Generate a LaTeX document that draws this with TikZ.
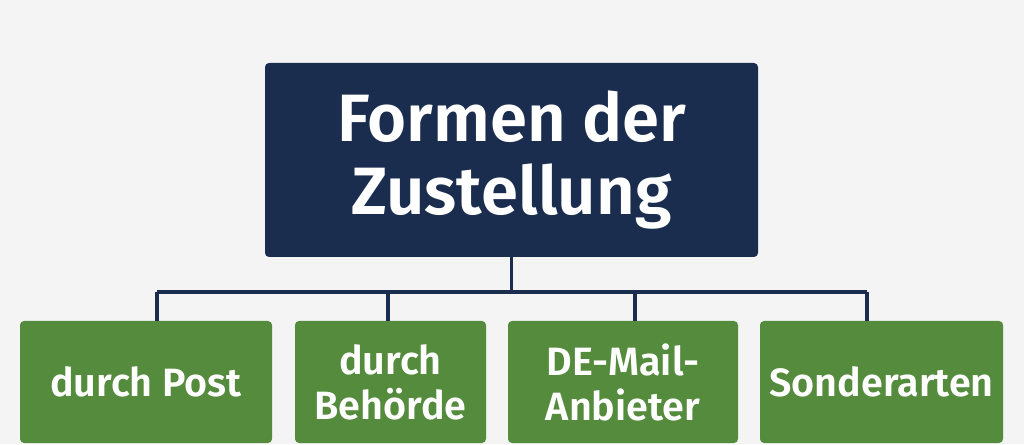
\documentclass[tikz,border=0pt]{standalone}
\usepackage{fontspec}
\setmainfont{Fira Sans}[BoldFont={Fira Sans SemiBold}]
\usepackage{tikz}
\usetikzlibrary{arrows, calc, positioning, shapes}

\definecolor{navy}{HTML}{1B2D4F}
\definecolor{leaf}{HTML}{548B3C}
\definecolor{bg}{HTML}{F4F4F4}

\tikzset{
	titlebox/.style={fill=navy, rounded corners=4pt, text=white, align=center, font=\fontsize{67}{73}\selectfont\bfseries, inner sep=0pt},
	leafbox/.style={fill=leaf, rounded corners=4pt, text=white, align=center, font=\fontsize{39.5}{45}\selectfont\bfseries, inner sep=0pt, minimum height=122pt},
	bus/.style={draw=navy, line width=3.5pt}
}

\begin{document}
\begin{tikzpicture}[x=1pt, y=1pt]
			\fill[bg] (0,0) rectangle (1024,444);
			\useasboundingbox (0,0) rectangle (1024,444);
			\node[titlebox, minimum width=493pt, minimum height=194pt] (title) at (511.5,284) {Formen der\\Zustellung};
			\node[leafbox, minimum width=252pt] (post) at (146,62) {durch Post};
			\node[leafbox, minimum width=191pt] (amt) at (390.5,62) {durch\\Behörde};
			\node[leafbox, minimum width=230pt] (mail) at (623,62) {DE-Mail-\\Anbieter};
			\node[leafbox, minimum width=243pt] (sonder) at (881.5,62) {Sonderarten};
			\coordinate (jpost) at (157,152);
			\coordinate (jamt) at (388,152);
			\coordinate (jmail) at (635,152);
			\coordinate (jsonder) at (867,152);
			\draw[bus] (title.south) -- (title.south |- jpost);
			\draw[bus] (jpost) -- (jsonder);
			\draw[bus] (jpost) -- (jpost |- post.north);
			\draw[bus] (jamt) -- (jamt |- amt.north);
			\draw[bus] (jmail) -- (jmail |- mail.north);
			\draw[bus] (jsonder) -- (jsonder |- sonder.north);
\end{tikzpicture}
\end{document}
